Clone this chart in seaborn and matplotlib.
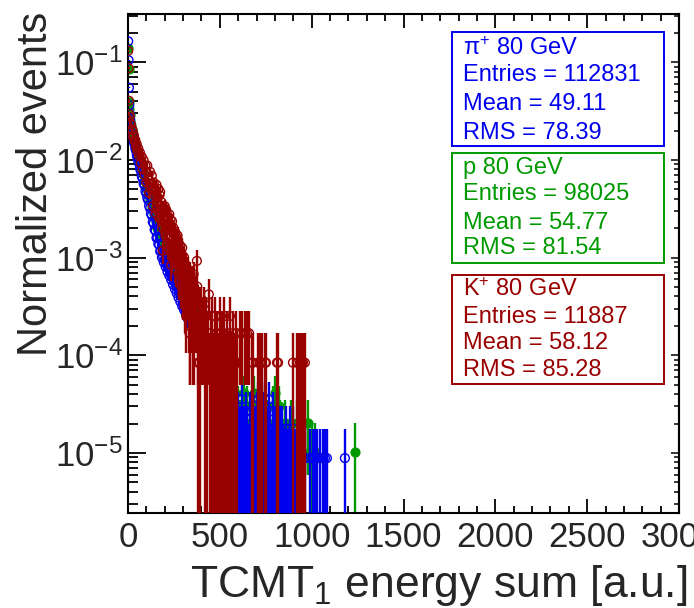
import numpy as np
import pandas as pd
import matplotlib
matplotlib.use("Agg")
import matplotlib.pyplot as plt
from matplotlib.patches import Rectangle
from matplotlib.ticker import MultipleLocator, LogLocator, NullFormatter
import seaborn as sns

# bin centres (a.u.) of the dense part, shared by the three samples
x_dense = [1, 3, 5, 7, 9, 12, 16, 20, 24, 28, 32, 36, 40, 44, 48, 52, 56, 60,
           65, 70, 75, 80, 85, 90, 95, 100, 105, 110, 115, 120, 125, 130, 135, 140,
           145, 150, 155, 160, 165, 170, 175, 180, 185, 190, 195, 200, 205, 210,
           215, 220, 225, 230, 235, 240, 245, 250, 255, 260, 265, 270, 275, 280,
           285, 290, 295, 300, 305, 310, 315, 320, 325, 330, 335, 340, 345, 350,
           355, 360, 365, 370, 375, 380, 385, 390, 395, 400]

# pi+ 80 GeV : counts per bin
n_pi_dense = [18500, 11850, 6200, 4100, 3350, 2950, 2580, 2330, 2070, 1940, 1730, 1630,
              1470, 1400, 1260, 1200, 1090, 1040,
              925, 870, 770, 725, 650, 618, 540, 512, 462, 436, 382, 362, 318, 304,
              262, 252, 218, 212, 180, 181, 156, 152, 131, 134, 113, 118, 101, 107,
              91, 96, 81, 88, 74, 80, 67, 72, 60, 66, 54, 60, 49, 56, 44, 50, 40, 46,
              36, 41, 33, 38, 30, 35, 27, 32, 25, 30, 23, 28, 21, 25, 19, 23, 17, 21,
              15, 20, 14, 18]
x_pi_tail = [405, 410, 415, 420, 425, 430, 435, 440, 445, 450, 455, 460, 465, 470,
             475, 480, 485, 490, 495, 500, 505, 510, 515, 520, 525, 530, 535, 540,
             545, 550, 555, 560, 565, 570, 575, 580, 585, 590, 595, 600, 605, 610,
             615, 620, 625, 630, 635, 640, 645, 650, 655, 660, 665, 670, 675, 680,
             685, 690, 695, 700, 705, 710, 715, 720, 725, 730, 735, 740, 745, 750,
             755, 760, 765, 770, 775, 780, 785, 790, 795, 800, 805, 810, 815, 820,
             825, 830, 835, 840, 845, 850, 855, 860, 865, 870, 875, 880, 885, 890,
             895, 900, 905, 910, 915, 920, 935, 950, 965, 991, 1005, 1018, 1030,
             1045, 1060, 1072, 1083, 1181]
n_pi_tail = [15, 17, 13, 14, 12, 13, 10, 12, 9, 11, 8, 10, 8, 9, 7, 8, 6, 7, 5, 7,
             5, 6, 4, 5, 6, 4, 5, 3, 5, 4, 3, 4, 3, 2, 4,
             1, 3, 2, 1, 3, 1, 2, 1, 4, 1, 2, 1, 3, 1, 2, 1, 1, 3, 1, 2,
             1, 1, 2, 1, 3, 1, 4, 1, 2, 1, 1, 3, 1, 4, 1, 2, 1, 4, 1, 2,
             1, 1, 3, 1, 2, 1, 3, 1, 1, 2, 1, 1, 2, 1, 1, 1, 2, 1, 1, 1,
             2, 1, 1, 1, 2, 1, 1, 1, 1,
             1, 1, 1, 1, 1, 1, 1, 1, 1, 1, 1, 1]

# p 80 GeV
n_p_dense = [13600, 8300, 3850, 3260, 2850, 2460, 2260, 1990, 1880, 1690, 1600, 1445,
             1395, 1255, 1215, 1095, 1075, 965,
             935, 822, 800, 702, 694, 600, 596, 512, 513, 442, 441, 378, 377, 318,
             326, 271, 279, 231, 240, 198, 210, 173, 184, 151, 164, 134, 146, 119,
             134, 108, 121, 97, 110, 88, 100, 78, 90, 71, 82, 63, 76, 58, 68, 51, 62,
             46, 57, 42, 52, 37, 47, 34, 43, 30, 40, 28, 37, 25, 34, 23, 31, 21, 28,
             19, 26, 17, 24, 16]
x_p_tail = [405, 410, 415, 420, 425, 430, 435, 440, 445, 450, 455, 460, 465, 470,
            475, 480, 485, 490, 495, 500, 505, 510, 515, 520, 530, 540, 550, 560,
            570, 580, 590, 600, 610, 620, 630, 640, 650, 660, 670, 685, 695, 705,
            715, 725, 735, 745, 760, 775, 790, 800, 810, 820, 830, 845, 855, 870,
            885, 900, 920, 945, 964, 980, 1000, 1018, 1236]
n_p_tail = [16, 14, 15, 12, 13, 11, 12, 9, 11, 9, 10, 8, 9, 7, 8, 6, 7, 6, 5, 6,
            5, 6, 4, 5, 4, 5, 3, 4, 3, 4, 2, 3, 2, 3, 4, 2, 3, 1, 2, 4, 2, 1, 3, 2,
            1, 3, 2, 1, 3, 4, 2, 3, 2, 1, 2, 1, 2, 1, 2, 1, 2, 2, 1, 1, 1]

# K+ 80 GeV
n_k_dense = [1560, 1035, 480, 350, 328, 281, 274, 240, 243, 205, 214, 186, 189, 163,
             171, 146, 155, 131,
             141, 110, 128, 95, 118, 84, 104,
             70, 104, 74, 55, 90, 60, 82, 40, 70, 52, 34, 66, 44, 60, 30, 56, 40,
             27, 14, 36,
             40, 20, 35, 24, 15, 33, 25, 10, 28, 18, 13, 22, 9, 18, 20, 8,
             14, 9, 6, 15, 8, 12, 4, 10, 6, 9, 3, 2, 8, 4, 7, 2, 6, 3, 5, 11, 2, 4,
             1, 3, 2]
# extra kaon bins in between (finer binning in the falling part)
x_k_mid = [152, 157, 162, 167, 172, 177, 182, 187, 192, 197,
           202, 207, 212, 217, 222, 227, 232, 237, 242, 247,
           252, 257, 262, 267, 272, 277, 282, 287, 292, 297,
           302, 307, 312, 317, 322, 327, 332, 337, 342, 347,
           352, 357, 362, 367, 372, 377, 382, 387, 392, 397]
n_k_mid = [58, 38, 49, 35, 52, 31, 44, 24, 39, 29,
           22, 37, 19, 30, 26, 14, 29, 20, 12, 24,
           16, 21, 11, 19, 14, 7, 16, 10, 13, 5,
           11, 7, 9, 3, 8, 5, 7, 2, 6, 3,
           5, 8, 2, 4, 3, 6, 1, 3, 2, 4]
x_k_tail = [405, 410, 415, 420, 425, 430, 435, 440, 445, 450, 455, 460, 465, 470,
            475, 480, 485, 490, 495, 500, 505, 510, 515, 520, 525, 530, 535, 540,
            545, 550, 555, 560, 565, 570, 575, 580, 585, 590, 595, 610, 620, 637,
            648, 659, 675, 680, 708, 718, 729, 746, 751, 811, 817, 898, 920, 925,
            936, 947, 953, 963]
n_k_tail = [3, 2, 4, 1, 3, 1, 2, 5, 1, 2, 1, 3, 1, 1, 3, 1, 2, 1, 1, 3, 1, 2, 1, 1,
            3, 1, 1, 2, 1, 1, 3, 1, 1, 2, 1, 1, 1, 2, 1, 2, 2, 2, 2, 2, 1, 1, 1, 1,
            1, 1, 1, 1, 1, 1, 1, 1, 1, 1, 1, 1]

labels = ["π$^{+}$ 80 GeV", "p 80 GeV", "K$^{+}$ 80 GeV"]
entries = [112831, 98025, 11887]
means = ["49.11", "54.77", "58.12"]
rmss = ["78.39", "81.54", "85.28"]

colors = ["#0000ee", "#009a00", "#990000"]

sns.set_theme(style="ticks")
plt.rcParams['font.family'] = ['Liberation Sans', 'DejaVu Sans']
plt.rcParams['mathtext.fontset'] = 'custom'
plt.rcParams['mathtext.rm'] = 'Liberation Sans'
plt.rcParams['mathtext.it'] = 'Liberation Sans:italic'
plt.rcParams['mathtext.bf'] = 'Liberation Sans:bold'

W, H = 694, 608
fig = plt.figure(figsize=(W / 100, H / 100), dpi=100)
fig.patch.set_facecolor("white")
ax = fig.add_axes([128 / W, 1 - 513 / H, 551 / W, 499 / H])
ax.set_facecolor("white")
ax.set_yscale("log")

# protons first, pions over them, kaons on top
datos = [
    (x_dense + x_p_tail, n_p_dense + n_p_tail, entries[1], colors[1], colors[1], 2),
    (x_dense + x_pi_tail, n_pi_dense + n_pi_tail, entries[0], colors[0], "none", 3),
    (x_dense + x_k_mid + x_k_tail, n_k_dense + n_k_mid + n_k_tail, entries[2],
     colors[2], "none", 4),
]

for x, n, N, c, fc, z in datos:
    df = pd.DataFrame({"x": x, "n": n})
    df["v"] = df["n"] / N
    df["err"] = np.sqrt(df["n"]) / N
    ax.errorbar(df["x"], df["v"], yerr=df["err"], fmt="none", ecolor=c,
                elinewidth=1.7, capsize=0, zorder=z)
    sns.scatterplot(data=df, x="x", y="v", ax=ax, marker="o", s=40,
                    facecolor=fc, edgecolor=c, linewidth=1.0, zorder=z + 0.5,
                    legend=False)

ax.set_xlim(0, 3000)
ax.set_ylim(2.43e-6, 0.312)
ax.xaxis.set_major_locator(MultipleLocator(500))
ax.xaxis.set_minor_locator(MultipleLocator(100))
ax.yaxis.set_major_locator(LogLocator(base=10, numticks=15))
ax.yaxis.set_minor_locator(LogLocator(base=10, subs=np.arange(2, 10), numticks=15))
ax.yaxis.set_minor_formatter(NullFormatter())

ax.tick_params(which="both", direction="in", top=True, right=False, color="black")
ax.tick_params(axis="x", which="major", length=10, width=1.3, labelsize=25, pad=6)
ax.tick_params(axis="x", which="minor", length=5, width=1.3)
ax.tick_params(axis="y", which="major", length=13, width=1.3, labelsize=25, pad=4)
ax.tick_params(axis="y", which="minor", length=7, width=1.3)
for s in ax.spines.values():
    s.set_linewidth(1.5)
    s.set_color("black")

# ticks on the right side are shorter
sec = ax.secondary_yaxis("right")
sec.tick_params(which="both", direction="in", labelright=False, width=1.3)
sec.tick_params(which="major", length=6)
sec.tick_params(which="minor", length=3.5)
sec.spines["right"].set_linewidth(1.5)

ax.set_xlabel("TCMT$_{1}$ energy sum [a.u.]", fontsize=32, loc="right")
ax.xaxis.set_label_coords(1.016, -0.10)
ax.set_ylabel("Normalized events", fontsize=30, loc="top")
ax.yaxis.set_label_coords(-0.13, 1.004)

# stat boxes (pixel layout)
cajas = [(452, 32, 664, 146), (452, 153, 664, 263), (452, 275, 664, 384)]
lineas_y = [(49, 75, 104, 133), (168, 194, 223, 248), (290, 317, 343, 370)]
for i in range(3):
    x0, y0, x1, y1 = cajas[i]
    fig.add_artist(Rectangle((x0 / W, 1 - y1 / H), (x1 - x0) / W, (y1 - y0) / H,
                             transform=fig.transFigure, facecolor="white",
                             edgecolor=colors[i], linewidth=1.4, zorder=10))
    textos = [labels[i], f"Entries = {entries[i]}", f"Mean = {means[i]}",
              f"RMS = {rmss[i]}"]
    for t, yy in zip(textos, lineas_y[i]):
        fig.text(463 / W, 1 - yy / H, t, color=colors[i], fontsize=17,
                 ha="left", va="center", zorder=11)

fig.savefig("out.png", dpi=100)
